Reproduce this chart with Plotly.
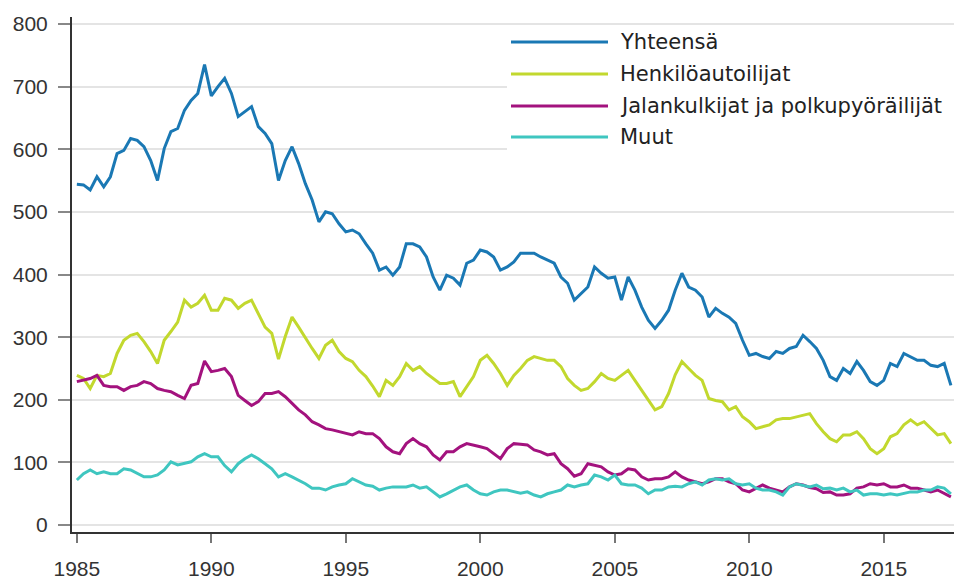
import pandas as pd
import plotly.graph_objects as go

# ---- data (quarterly readings, Jan 1985 .. Jul 2017) ----
series_names = ["Yhteensä", "Henkilöautoilijat", "Jalankulkijat ja polkupyöräilijät", "Muut"]
series_colors = ["#1a78b4", "#c2d82e", "#a3127e", "#3fc6c0"]

yhteensa = [
    544, 543, 535, 556, 540, 556, 593, 598, 617, 614, 604, 582, 550, 601, 628, 633,
    662, 678, 689, 735, 685, 700, 713, 689, 652, 660, 668, 636, 625, 609, 550, 582,
    604, 577, 545, 519, 484, 500, 497, 481, 468, 471, 465, 449, 434, 407, 412, 399,
    412, 449, 449, 444, 428, 396, 375, 399, 394, 383, 418, 423, 439, 436, 428, 407,
    412, 420, 434, 434, 434, 428, 423, 418, 396, 386, 359, 370, 380, 412, 402, 394,
    396, 359, 396, 375, 348, 327, 314, 327, 343, 375, 402, 380, 375, 364, 332, 346,
    338, 332, 322, 295, 271, 274, 269, 266, 277, 274, 282, 285, 303, 293, 282, 263,
    237, 231, 250, 242, 261, 247, 229, 223, 231, 258, 253, 274, 269, 263, 263, 255,
    253, 258, 223,
]
henkiloauto = [
    239, 234, 218, 239, 237, 242, 274, 295, 303, 306, 293, 277, 258, 295, 309, 324,
    359, 348, 354, 367, 343, 343, 362, 359, 346, 354, 359, 338, 316, 306, 265, 301,
    332, 316, 298, 282, 266, 287, 295, 277, 266, 261, 247, 237, 222, 205, 231, 223,
    237, 258, 247, 253, 242, 234, 226, 226, 229, 205, 221, 237, 263, 271, 258, 242,
    223, 239, 250, 263, 269, 266, 263, 263, 253, 234, 223, 215, 218, 229, 242, 234,
    231, 239, 247, 231, 215, 199, 184, 189, 210, 240, 261, 250, 239, 231, 202, 199,
    197, 184, 189, 173, 165, 154, 157, 160, 168, 170, 170, 173, 176, 178, 162, 149,
    138, 133, 144, 144, 149, 138, 122, 114, 122, 141, 146, 160, 168, 160, 165, 154,
    144, 146, 130,
]
jalankulkijat = [
    229, 231, 234, 239, 223, 221, 221, 215, 221, 223, 229, 226, 218, 215, 213, 207,
    202, 223, 226, 262, 245, 247, 250, 237, 207, 199, 191, 197, 210, 210, 213, 205,
    194, 184, 176, 165, 160, 154, 152, 149, 146, 144, 149, 146, 146, 138, 125, 117,
    114, 130, 138, 130, 125, 112, 104, 117, 117, 125, 130, 128, 125, 122, 114, 106,
    122, 130, 129, 128, 120, 117, 112, 114, 98, 90, 78, 82, 98, 96, 93, 85,
    80, 82, 90, 88, 77, 72, 74, 74, 77, 85, 77, 72, 69, 66, 69, 74,
    74, 69, 66, 56, 53, 59, 64, 59, 56, 53, 61, 66, 64, 60, 58, 52,
    53, 48, 48, 50, 59, 61, 66, 64, 66, 61, 61, 64, 59, 59, 56, 53,
    56, 50, 45,
]
muut = [
    72, 82, 88, 82, 85, 82, 82, 90, 88, 82, 77, 77, 80, 88, 101, 96,
    98, 101, 109, 114, 109, 109, 95, 85, 98, 106, 112, 106, 98, 90, 77, 82,
    77, 72, 66, 59, 59, 56, 61, 64, 66, 74, 69, 64, 62, 56, 59, 61,
    61, 61, 64, 59, 61, 53, 45, 50, 56, 61, 64, 56, 50, 48, 53, 56,
    56, 53, 51, 53, 48, 45, 50, 53, 56, 64, 61, 64, 66, 80, 77, 72,
    80, 66, 64, 64, 59, 50, 56, 56, 61, 62, 61, 66, 69, 64, 72, 74,
    72, 74, 66, 64, 66, 59, 56, 56, 53, 48, 61, 66, 64, 61, 64, 58,
    59, 56, 59, 53, 56, 48, 50, 50, 48, 50, 48, 50, 53, 53, 56, 56,
    61, 59, 50,
]
tick_years = [1985, 1990, 1995, 2000, 2005, 2010, 2015]
y_ticks = [0, 100, 200, 300, 400, 500, 600, 700, 800]

dates = pd.date_range("1985-01-01", periods=len(yhteensa), freq="QS")
all_values = [yhteensa, henkiloauto, jalankulkijat, muut]

fig = go.Figure()
for name, color, vals in zip(series_names, series_colors, all_values):
    fig.add_trace(go.Scatter(x=dates, y=vals, mode="lines", name=name,
                             line=dict(color=color, width=3), showlegend=False))

# ---- manual legend (long line samples) ----
W, H = 954, 579
ml, mr, mt, mb = 72, 0, 17, 47
pw, ph = W - ml - mr, H - mt - mb
px = lambda x: (x - ml) / pw
py = lambda y: (H - mb - y) / ph

shapes = [dict(type="rect", xref="paper", yref="paper", x0=px(507), x1=1.0,
               y0=py(155), y1=py(27), fillcolor="white", line=dict(width=0), layer="above")]
annotations = []
row_y = [42, 74, 106, 137]
for name, color, ry in zip(series_names, series_colors, row_y):
    shapes.append(dict(type="line", xref="paper", yref="paper", x0=px(511), x1=px(608),
                       y0=py(ry), y1=py(ry), line=dict(color=color, width=3), layer="above"))
    annotations.append(dict(x=px(618), y=py(ry), xref="paper", yref="paper", text=name,
                            showarrow=False, xanchor="left", yanchor="middle",
                            font=dict(family="DejaVu Sans", size=21, color="#222222")))

fig.update_layout(
    width=W, height=H,
    margin=dict(l=ml, r=mr, t=mt, b=mb, pad=0, autoexpand=False),
    paper_bgcolor="white", plot_bgcolor="white",
    showlegend=False,
    shapes=shapes, annotations=annotations,
    font=dict(family="Liberation Sans", size=21, color="#333333"),
)
fig.update_xaxes(
    type="date", range=["1984-10-27", "2017-08-12"], automargin=False,
    tickvals=[f"{y}-01-01" for y in tick_years], ticktext=[str(y) for y in tick_years],
    showgrid=False, zeroline=False,
    showline=True, linecolor="#333333", linewidth=2,
    ticks="outside", ticklen=9, tickwidth=2, tickcolor="#777777",
    ticklabelstandoff=8,
)
fig.update_yaxes(
    range=[-11, 811], tickvals=y_ticks, automargin=False,
    showgrid=True, gridcolor="#e4e4e4", gridwidth=2, zeroline=False,
    showline=True, linecolor="#333333", linewidth=2,
    ticks="outside", ticklen=12, tickwidth=2, tickcolor="#888888",
    ticklabelstandoff=6,
)

fig.write_html("out.html", config={"displayModeBar": False},
               post_script="document.body.style.margin='0';document.body.style.padding='0';")
